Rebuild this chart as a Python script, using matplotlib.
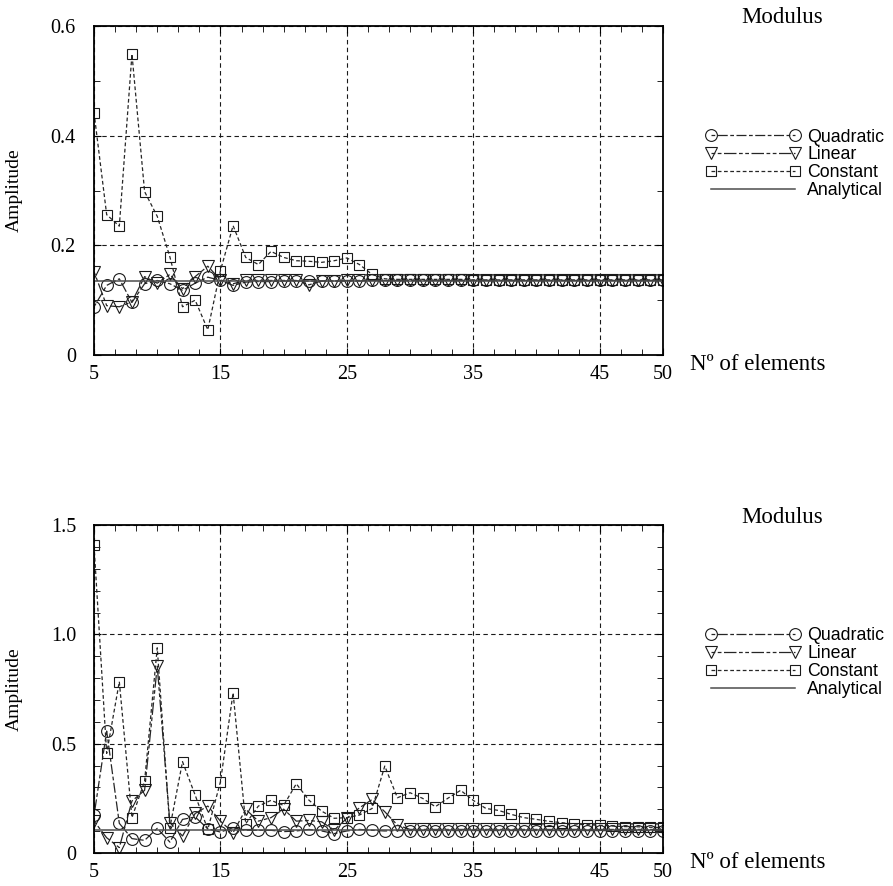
import matplotlib
matplotlib.use("Agg")
import matplotlib.pyplot as plt
from matplotlib.ticker import AutoMinorLocator, MultipleLocator

# number of elements
n_elements = list(range(5, 51))

# top chart
quadratic_top = [0.088, 0.127, 0.139, 0.096, 0.130, 0.136, 0.130, 0.118, 0.131, 0.142,
                 0.136, 0.127, 0.133, 0.134, 0.134, 0.135, 0.135, 0.135, 0.135, 0.135,
                 0.135, 0.135, 0.136, 0.136, 0.136, 0.136, 0.136, 0.136, 0.136, 0.136,
                 0.136, 0.136, 0.136, 0.136, 0.136, 0.136, 0.136, 0.136, 0.136, 0.136,
                 0.136, 0.136, 0.136, 0.136, 0.136, 0.136]
linear_top = [0.152, 0.090, 0.088, 0.097, 0.143, 0.131, 0.147, 0.121, 0.143, 0.162,
              0.137, 0.130, 0.136, 0.136, 0.136, 0.136, 0.136, 0.128, 0.135, 0.135,
              0.136, 0.136, 0.136, 0.136, 0.136, 0.136, 0.136, 0.136, 0.136, 0.136,
              0.136, 0.136, 0.136, 0.136, 0.136, 0.136, 0.136, 0.136, 0.136, 0.136,
              0.136, 0.136, 0.136, 0.136, 0.136, 0.136]
constant_top = [0.442, 0.256, 0.235, 0.549, 0.298, 0.253, 0.179, 0.088, 0.100, 0.046,
                0.154, 0.236, 0.178, 0.165, 0.189, 0.178, 0.172, 0.171, 0.169, 0.172,
                0.177, 0.165, 0.147, 0.139, 0.138, 0.138, 0.138, 0.138, 0.138, 0.138,
                0.137, 0.137, 0.137, 0.137, 0.137, 0.137, 0.137, 0.137, 0.137, 0.137,
                0.137, 0.137, 0.137, 0.137, 0.137, 0.137]
analytical_top = 0.135

# bottom chart
quadratic_bottom = [0.172, 0.558, 0.136, 0.066, 0.058, 0.113, 0.050, 0.154, 0.165, 0.111,
                    0.096, 0.116, 0.104, 0.104, 0.104, 0.098, 0.101, 0.108, 0.101, 0.089,
                    0.101, 0.108, 0.104, 0.101, 0.103, 0.103, 0.103, 0.103, 0.103, 0.103,
                    0.103, 0.103, 0.103, 0.103, 0.103, 0.103, 0.103, 0.103, 0.103, 0.103,
                    0.103, 0.103, 0.103, 0.103, 0.103, 0.103]
linear_bottom = [0.146, 0.070, 0.025, 0.238, 0.287, 0.855, 0.139, 0.078, 0.181, 0.215,
                 0.146, 0.093, 0.200, 0.146, 0.162, 0.201, 0.146, 0.149, 0.143, 0.105,
                 0.159, 0.207, 0.245, 0.189, 0.128, 0.108, 0.108, 0.108, 0.108, 0.108,
                 0.108, 0.108, 0.108, 0.108, 0.108, 0.108, 0.108, 0.108, 0.108, 0.108,
                 0.108, 0.108, 0.108, 0.108, 0.108, 0.108]
constant_bottom = [1.408, 0.456, 0.784, 0.162, 0.329, 0.939, 0.116, 0.418, 0.265, 0.108,
                   0.326, 0.733, 0.134, 0.215, 0.241, 0.218, 0.317, 0.242, 0.192, 0.159,
                   0.162, 0.174, 0.204, 0.398, 0.253, 0.276, 0.250, 0.212, 0.251, 0.287,
                   0.241, 0.204, 0.195, 0.177, 0.162, 0.154, 0.145, 0.139, 0.133, 0.130,
                   0.127, 0.124, 0.121, 0.120, 0.118, 0.117]
analytical_bottom = 0.105

x_ticks = [5, 15, 25, 35, 45, 50]
y_ticks_top = [0, 0.2, 0.4, 0.6]
y_labels_top = ["0", "0.2", "0.4", "0.6"]
y_ticks_bottom = [0, 0.5, 1.0, 1.5]
y_labels_bottom = ["0", "0.5", "1.0", "1.5"]

SERIF = ["Liberation Serif", "DejaVu Serif"]
SANS = ["Liberation Sans Narrow", "Liberation Sans", "DejaVu Sans"]


def plot_modulus(ax, quad, lin, const, analytical, y_ticks, y_labels, minor_step):
    """
    Draw one modulus panel with the three element types and the analytical value.
    """
    common = dict(color="0.15", linewidth=0.9, markerfacecolor="none",
                  markeredgecolor="0.1", markeredgewidth=0.8)
    ax.plot(n_elements, quad, marker="o", markersize=8.5,
            linestyle=(0, (3, 2, 8, 2)), label="Quadratic", **common)
    ax.plot(n_elements, lin, marker="v", markersize=8.5,
            linestyle=(0, (3, 2, 3, 2, 10, 2)), label="Linear", **common)
    ax.plot(n_elements, const, marker="s", markersize=7.5,
            linestyle=(0, (3, 2)), label="Constant", **common)
    ax.axhline(analytical, color="0.3", linewidth=1.1, label="Analytical")

    ax.set_xlim(5, 50)
    ax.set_ylim(y_ticks[0], y_ticks[-1])
    ax.set_xticks(x_ticks)
    ax.set_yticks(y_ticks)
    ax.set_yticklabels(y_labels)
    ax.xaxis.set_minor_locator(AutoMinorLocator(6))
    ax.yaxis.set_minor_locator(MultipleLocator(minor_step))
    ax.tick_params(which="both", direction="in", top=True, right=True,
                   labelsize=14.5)
    ax.tick_params(axis="x", which="both", pad=7)
    ax.tick_params(axis="y", which="both", pad=13)
    ax.tick_params(which="major", length=5)
    ax.tick_params(which="minor", length=4)
    for lab in ax.get_xticklabels() + ax.get_yticklabels():
        lab.set_family(SERIF)
    ax.grid(True, which="major", color="0.1", linestyle=(0, (4, 3)), linewidth=0.8)
    for spine in ax.spines.values():
        spine.set_linewidth(1.3)

    ax.set_ylabel("Amplitude", family=SERIF, fontsize=14, labelpad=20)
    ax.text(1.047, -0.03, "Nº of elements", transform=ax.transAxes,
            family=SERIF, fontsize=16.5, va="center", ha="left")
    ax.text(1.209, 1.025, "Modulus", transform=ax.transAxes,
            family=SERIF, fontsize=16.5, va="center", ha="center")
    ax.legend(loc="upper left", bbox_to_anchor=(1.063, 0.71), frameon=False,
              numpoints=2, handlelength=5.3, handletextpad=0.4,
              labelspacing=0.05, borderaxespad=0,
              prop={"family": SANS, "size": 12.8})


fig = plt.figure(figsize=(8.93, 8.86), dpi=100)
ax_top = fig.add_axes([0.1053, 0.5993, 0.637, 0.3713])
ax_bottom = fig.add_axes([0.1053, 0.0372, 0.637, 0.370])

plot_modulus(ax_top, quadratic_top, linear_top, constant_top, analytical_top,
             y_ticks_top, y_labels_top, 0.1)
plot_modulus(ax_bottom, quadratic_bottom, linear_bottom, constant_bottom, analytical_bottom,
             y_ticks_bottom, y_labels_bottom, 0.1)

fig.savefig("out.png", dpi=100)
